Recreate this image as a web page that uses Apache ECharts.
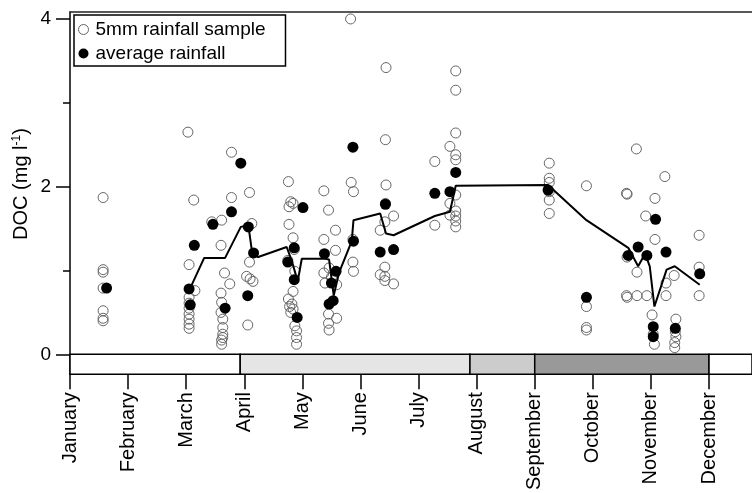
<!DOCTYPE html>
<html><head><meta charset="utf-8">
<script src="https://cdn.jsdelivr.net/npm/echarts@6/dist/echarts.min.js"></script>
<style>html,body{margin:0;padding:0;background:#fff}#c{width:752px;height:493px}</style>
</head><body><div id="c"></div>
<script>
// ---- data ----
const months = ['January','February','March','April','May','June','July','August','September','October','November','December'];
const monthTicks = [0,1,2,3,4,5,6,7,8,9,10,11];
const yTickMajor = [0, 2, 4];
const yTickMinor = [1, 3];
// season bands (x in month units)
const bandStart = [0, 2.93, 6.885, 8.0, 11.0];
const bandEnd   = [2.93, 6.885, 8.0, 11.0, 11.74];

// 5mm rainfall samples [month position, DOC]
const sampleRain = [
 [0.57,1.87],[0.57,1.01],[0.57,0.98],[0.57,0.79],[0.57,0.52],[0.57,0.43],[0.57,0.40],
 [2.03,2.65],[2.13,1.84],[2.05,1.07],[2.15,0.76],[2.05,0.68],[2.05,0.61],[2.05,0.55],[2.05,0.48],[2.05,0.42],[2.05,0.36],[2.05,0.31],
 [2.44,1.58],[2.61,1.60],[2.60,1.30],[2.78,2.41],[2.78,1.87],[2.66,0.97],[2.75,0.84],[2.60,0.73],[2.61,0.62],[2.60,0.50],[2.63,0.42],[2.63,0.32],[2.63,0.24],[2.63,0.20],[2.61,0.17],[2.61,0.12],
 [3.09,1.93],[3.13,1.56],[3.09,1.10],[3.04,0.93],[3.10,0.90],[3.15,0.87],[3.06,0.35],
 [3.76,2.06],[3.84,1.80],[3.77,1.76],[3.80,1.82],[3.77,1.55],[3.84,1.39],[3.87,0.99],[3.84,0.75],[3.76,0.66],[3.82,0.60],[3.84,0.54],[3.78,0.57],[3.80,0.50],[3.87,0.34],[3.90,0.28],[3.90,0.20],[3.90,0.12],[3.86,1.25],[3.75,1.12],
 [4.37,1.95],[4.45,1.72],[4.57,1.48],[4.37,1.37],[4.57,1.24],[4.37,0.97],[4.39,0.85],[4.59,0.83],[4.45,0.48],[4.59,0.43],[4.45,0.37],[4.46,0.29],[4.46,1.03],[4.50,0.92],
 [4.83,4.00],[4.84,2.05],[4.88,1.94],[4.87,1.37],[4.87,1.10],[4.88,0.99],
 [5.44,3.42],[5.43,2.56],[5.44,2.02],[5.43,1.80],[5.57,1.65],[5.42,1.58],[5.34,1.48],[5.42,1.04],[5.34,0.95],[5.42,0.93],[5.42,0.88],[5.57,0.84],
 [6.28,2.30],[6.28,1.54],[6.54,2.48],[6.64,3.38],[6.64,3.15],[6.64,2.64],[6.64,2.38],[6.64,2.32],[6.64,1.90],[6.54,1.80],[6.54,1.66],[6.64,1.71],[6.64,1.65],[6.64,1.59],[6.64,1.52],
 [8.25,2.28],[8.25,2.10],[8.25,2.05],[8.25,1.94],[8.25,1.84],[8.25,1.68],
 [8.89,2.01],[8.89,0.57],[8.89,0.32],[8.89,0.29],
 [9.58,1.92],[9.59,1.91],[9.59,1.16],[9.58,0.70],[9.59,0.68],[9.75,2.45],[10.24,2.12],[10.07,1.86],[9.91,1.65],[10.07,1.37],[9.76,0.98],[10.26,0.85],[10.40,0.94],[9.76,0.70],[9.93,0.70],[10.26,0.70],[10.02,0.47],[10.04,0.24],[10.06,0.12],[10.43,0.42],[10.42,0.27],[10.43,0.21],[10.41,0.14],[10.41,0.08],
 [10.83,1.42],[10.83,1.04],[10.83,0.70]
];

// average rainfall [month position, DOC]
const averageRain = [
 [0.63,0.79],[2.05,0.78],[2.07,0.59],[2.14,1.30],[2.46,1.55],[2.78,1.70],[2.67,0.55],[2.94,2.28],[3.07,1.52],[3.16,1.21],[3.06,0.70],
 [3.75,1.10],[3.86,1.27],[3.86,0.89],[3.91,0.44],[4.01,1.75],[4.38,1.20],[4.58,0.99],[4.50,0.85],[4.46,0.60],[4.53,0.64],
 [4.87,2.47],[4.88,1.35],[5.43,1.79],[5.34,1.22],[5.57,1.25],[6.28,1.92],[6.54,1.94],[6.64,2.17],[8.23,1.96],[8.89,0.68],
 [9.61,1.18],[9.78,1.28],[9.93,1.18],[10.08,1.61],[10.26,1.22],[10.04,0.33],[10.04,0.21],[10.42,0.31],[10.84,0.96]
];

// running average line [month position, DOC]
const averageLine = [
 [2.07,0.79],[2.31,1.15],[2.67,1.15],[2.94,1.52],[3.07,1.54],[3.14,1.19],[3.24,1.16],[3.73,1.28],[3.82,1.11],[3.92,0.87],[3.99,1.14],
 [4.39,1.14],[4.46,1.13],[4.54,0.70],[4.63,0.97],[4.85,1.35],[4.88,1.60],[5.34,1.68],[5.44,1.44],[5.57,1.42],[6.28,1.65],[6.54,1.70],
 [6.64,2.01],[8.23,2.02],[8.89,1.60],[9.61,1.27],[9.78,1.05],[9.90,1.20],[9.98,1.05],[10.06,0.57],[10.27,1.01],[10.41,1.05],[10.84,0.83]
];

// ---- styling ----
const bandShade = ['#ffffff','#e5e5e5','#cccccc','#999999','#ffffff'];
const X_MAX = 11.74, Y_MIN = -0.2367, Y_MAX = 4.083;
const FONT = '"Liberation Sans", Arial, Helvetica, sans-serif';

const chart = echarts.init(document.getElementById('c'), null, {renderer:'canvas'});
chart.setOption({
  animation: false,
  backgroundColor: '#fff',
  textStyle: {fontFamily: FONT, color: '#000'},
  grid: {left: 70, right: 0, top: 12, bottom: 116},
  xAxis: [{
    type: 'value', min: 0, max: X_MAX,
    axisLine: {onZero: false, lineStyle: {color: '#000', width: 1.5}},
    axisTick: {show: true, customValues: monthTicks, length: 15, lineStyle: {color: '#000', width: 1.5}},
    axisLabel: {customValues: monthTicks, formatter: v => months[Math.round(v)], rotate: 90, margin: 18,
                fontSize: 20, color: '#000', fontFamily: FONT},
    splitLine: {show: false}
  }, {
    type: 'value', position: 'top', min: 0, max: X_MAX,
    axisLine: {show: true, onZero: false, lineStyle: {color: '#222', width: 1.5}},
    axisTick: {show: false}, axisLabel: {show: false}, splitLine: {show: false}
  }],
  yAxis: [{
    type: 'value', min: Y_MIN, max: Y_MAX,
    axisLine: {show: true, onZero: false, lineStyle: {color: '#000', width: 1.5}},
    axisTick: {show: true, customValues: yTickMajor, length: 14, lineStyle: {color: '#000', width: 1.5}},
    axisLabel: {customValues: yTickMajor, margin: 19, fontSize: 19, color: '#000', fontFamily: FONT},
    splitLine: {show: false}
  }, {
    type: 'value', position: 'left', min: Y_MIN, max: Y_MAX,
    axisLine: {show: false, onZero: false},
    axisTick: {show: true, customValues: yTickMinor, length: 7, lineStyle: {color: '#000', width: 1.5}},
    axisLabel: {show: false}, splitLine: {show: false}
  }],
  legend: {
    left: 74, top: 15, orient: 'vertical', padding: [5, 20, 3, 4], itemGap: 5,
    itemWidth: 14, itemHeight: 10, borderColor: '#000', borderWidth: 1.5, backgroundColor: '#fff',
    textStyle: {fontSize: 19, color: '#000', fontFamily: FONT},
    data: [
      {name: '5mm rainfall sample', icon: 'circle', itemStyle: {color: '#fff', borderColor: '#666', borderWidth: 1, opacity: 1}},
      {name: 'average rainfall', icon: 'circle', itemStyle: {color: '#000', opacity: 1}}
    ]
  },
  graphic: [{
    type: 'text', x: 21, y: 184, rotation: Math.PI / 2,
    style: {
      text: 'DOC (mg l{s|-1})', fontSize: 20, fontFamily: FONT, fill: '#000',
      align: 'center', verticalAlign: 'middle',
      rich: {s: {fontSize: 12, verticalAlign: 'top', fontFamily: FONT, fill: '#000'}}
    }
  }],
  series: [{
    type: 'custom', name: 'bands', silent: true, clip: false, z: 1,
    xAxisIndex: 0, yAxisIndex: 0,
    data: bandStart.map((s, i) => [s, bandEnd[i], i]),
    encode: {x: [0, 1]},
    renderItem: (params, api) => {
      const p0 = api.coord([api.value(0), 0]);
      const p1 = api.coord([api.value(1), Y_MIN]);
      return {type: 'rect', shape: {x: p0[0], y: p0[1], width: p1[0] - p0[0], height: p1[1] - p0[1]},
              style: {fill: bandShade[api.value(2)], stroke: '#000', lineWidth: 1.5}};
    }
  }, {
    type: 'scatter', name: '5mm rainfall sample', data: sampleRain, z: 2,
    symbol: 'circle', symbolSize: 10,
    itemStyle: {color: 'rgba(255,255,255,0)', borderColor: '#666', borderWidth: 1, opacity: 1}
  }, {
    type: 'line', name: 'running', data: averageLine, z: 3, symbol: 'none',
    lineStyle: {color: '#000', width: 2}
  }, {
    type: 'scatter', name: 'average rainfall', data: averageRain, z: 4,
    symbol: 'circle', symbolSize: 11, itemStyle: {color: '#000', opacity: 1}
  }]
});
</script></body></html>
